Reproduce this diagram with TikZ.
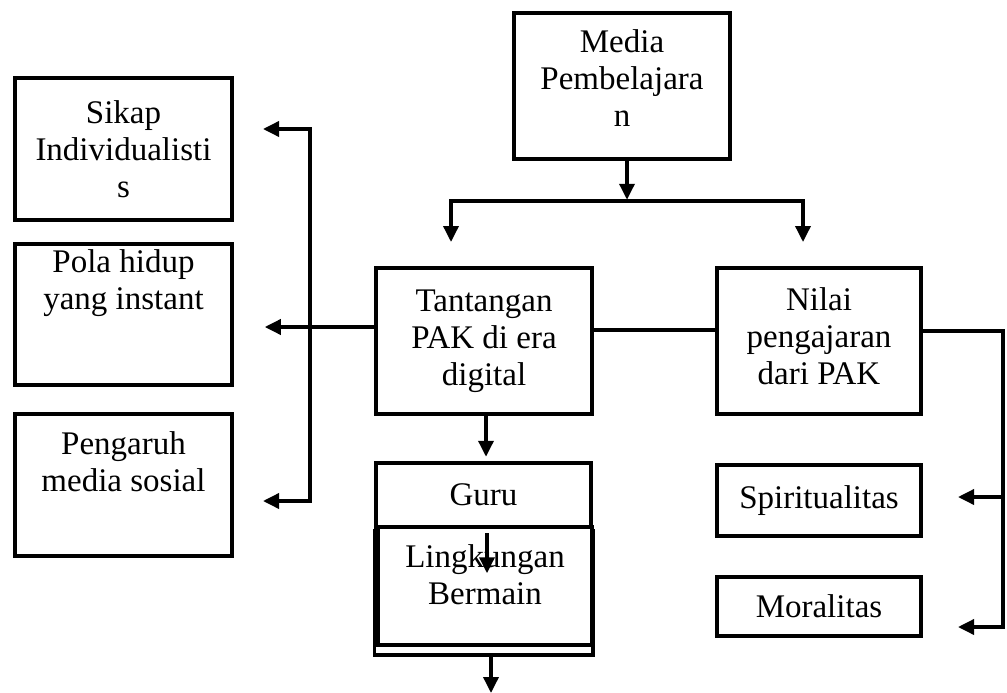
\documentclass[tikz,border=0pt]{standalone}
\usepackage{fontspec}
\setmainfont{Liberation Serif}
\usetikzlibrary{arrows.meta,positioning}

\tikzset{
  kotak/.style={draw, rectangle, line width=3.5pt, inner sep=0pt, fill=white,
    align=center, font=\fontsize{33pt}{37pt}\selectfont},
  garis/.style={line width=3.5pt, line cap=rect},
  panah/.style={line width=3.5pt, -{Triangle[length=16pt,width=15pt]}},
}

\begin{document}
\begin{tikzpicture}[x=1pt, y=-1pt]
  \useasboundingbox (0,0) rectangle (1007,693);
  \node[kotak, minimum width=216pt, minimum height=146pt] (media) at (622,86)
    {Media\\Pembelajara\\n\\[-22pt]\mbox{}};
  \node[kotak, minimum width=217pt, minimum height=142pt] (sikap) at (123.5,149)
    {Sikap\\Individualisti\\s};
  \node[kotak, minimum width=217pt, minimum height=141pt] (pola) at (123.5,314.5)
    {Pola hidup\\yang instant\\[32pt]\mbox{}};
  \node[kotak, minimum width=217pt, minimum height=142pt] (pengaruh) at (123.5,485)
    {Pengaruh\\media sosial\\[9pt]\mbox{}};
  \node[kotak, minimum width=216pt, minimum height=146pt] (tantangan) at (484,341)
    {Tantangan\\PAK di era\\digital};
  \node[kotak, minimum width=204pt, minimum height=146pt] (nilai) at (819,341)
    {Nilai\\pengajaran\\dari PAK\\[-27pt]\mbox{}};
  \node[kotak, minimum width=215pt, minimum height=64pt] (guru) at (483.5,495) {Guru};
  \draw[line width=3.5pt] (guru.south west) -- ++(0,126) -| (guru.south east);
  \node[kotak, minimum width=214pt, minimum height=118pt] (lingkungan) at (485,586)
    {Lingkungan\\Bermain\\[-15pt]\mbox{}};
  \node[kotak, minimum width=204pt, minimum height=71pt] (spiritual) at (819,500.5)
    {Spiritualitas};
  \node[kotak, minimum width=204pt, minimum height=59pt] (moral) at (819,606.5)
    {Moralitas};

  \coordinate (cabangkiri) at (451,201);
  \coordinate (cabangkanan) at (803,201);
  \coordinate (kiriatas) at (310,129);
  \coordinate (kiribawah) at (310,501);
  \coordinate (kanantengah) at (1003,497);
  \coordinate (kananbawah) at (1003,627);
  \coordinate (dasar) at (491,653);

  \draw[panah] ([xshift=5pt]media.south) -- ++(0,39);
  \draw[garis] (cabangkiri) -- (cabangkanan);
  \draw[panah] (cabangkiri) -- ++(0,41);
  \draw[panah] (cabangkanan) -- ++(0,41);

  \draw[garis] (kiriatas) -- (kiribawah);
  \draw[panah] (kiriatas) -- ++(-47,0);
  \draw[panah] (kiribawah) -- ++(-47,0);
  \draw[panah] ([yshift=14pt]tantangan.west) -- ([xshift=31pt,yshift=-12.5pt]pola.east);

  \draw[garis] ([yshift=11pt]tantangan.east) -- ([yshift=11pt]nilai.west);
  \draw[garis] ([yshift=10pt]nilai.east) -| (kananbawah);
  \draw[panah] (kanantengah) -- ++(-45,0);
  \draw[panah] (kananbawah) -- ++(-45,0);

  \draw[panah] ([xshift=2pt]tantangan.south) -- ++(0,41);
  \draw[panah] ([xshift=2pt,yshift=-8pt]lingkungan.north) -- ++(0,40);
  \draw[panah] (dasar) -- ++(0,40);
\end{tikzpicture}
\end{document}
